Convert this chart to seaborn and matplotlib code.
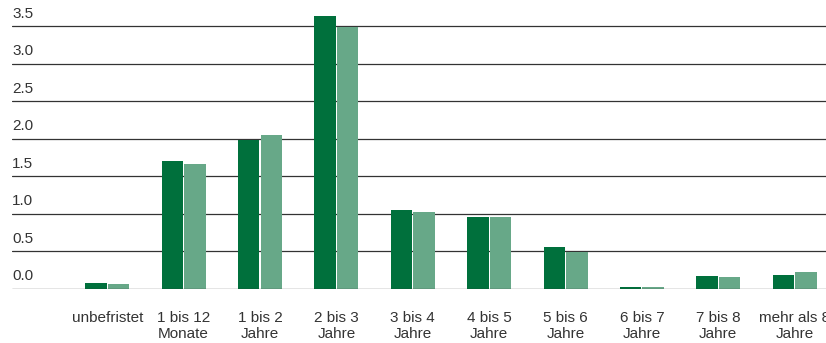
import matplotlib
matplotlib.use("Agg")
import matplotlib.pyplot as plt
import seaborn as sns
import pandas as pd

# Laufzeitklassen und Werte der beiden Reihen
categories = [
    "unbefristet",
    "1 bis 12\nMonate",
    "1 bis 2\nJahre",
    "2 bis 3\nJahre",
    "3 bis 4\nJahre",
    "4 bis 5\nJahre",
    "5 bis 6\nJahre",
    "6 bis 7\nJahre",
    "7 bis 8\nJahre",
    "mehr als 8\nJahre",
]
series_names = ["Berichtsjahr", "Vorjahr"]
values_current = [0.08, 1.70, 1.98, 3.64, 1.05, 0.955, 0.56, 0.025, 0.175, 0.19]
values_previous = [0.067, 1.67, 2.05, 3.49, 1.03, 0.955, 0.495, 0.02, 0.157, 0.227]
y_ticks = [0.0, 0.5, 1.0, 1.5, 2.0, 2.5, 3.0, 3.5]
y_tick_labels = ["0.0", "0.5", "1.0", "1.5", "2.0", "2.5", "3.0", "3.5"]

colors = ["#00703C", "#67A888"]
text_color = "#333333"

df = pd.DataFrame({
    "Laufzeit": categories * 2,
    "Reihe": [series_names[0]] * len(categories) + [series_names[1]] * len(categories),
    "Wert": values_current + values_previous,
})

sns.set_theme(style="white")
plt.rcParams["font.family"] = ["Liberation Sans", "DejaVu Sans"]

W, H = 826, 343
fig = plt.figure(figsize=(W / 100, H / 100), dpi=100)
ax_left, ax_bottom_px, ax_top_px = 12, 289, 0
ax = fig.add_axes([ax_left / W, (H - ax_bottom_px) / H,
                   (W - ax_left) / W, (ax_bottom_px - ax_top_px) / H])

sns.barplot(
    data=df, x="Laufzeit", y="Wert", hue="Reihe",
    order=categories, hue_order=series_names,
    palette=colors, width=0.59, gap=0.05,
    saturation=1, legend=False, ax=ax, zorder=3,
    linewidth=0, edgecolor="none",
)

ax.set_xlim(-1.247, 9.41)
ax.set_ylim(0, 3.85)

# horizontale Gitterlinien
for yv in y_ticks:
    ax.axhline(yv, color="#333333", linewidth=0.9, zorder=1 if yv > 0 else 4)

# Y-Beschriftungen links über den Gitterlinien
ax.set_yticks(y_ticks)
ax.set_yticklabels([])
for yv, lab in zip(y_ticks, y_tick_labels):
    ax.annotate(lab, xy=(0, yv), xycoords=("axes fraction", "data"),
                xytext=(0, 4), textcoords="offset points",
                ha="left", va="bottom", fontsize=11, color=text_color)

ax.tick_params(axis="both", length=0)
ax.tick_params(axis="x", pad=15.5, labelsize=11, labelcolor=text_color)
for lbl in ax.get_xticklabels():
    lbl.set_linespacing(1.2)
    lbl.set_va("top")

ax.set_xlabel("")
ax.set_ylabel("")
for s in ax.spines.values():
    s.set_visible(False)

fig.savefig("out.png", dpi=100)
